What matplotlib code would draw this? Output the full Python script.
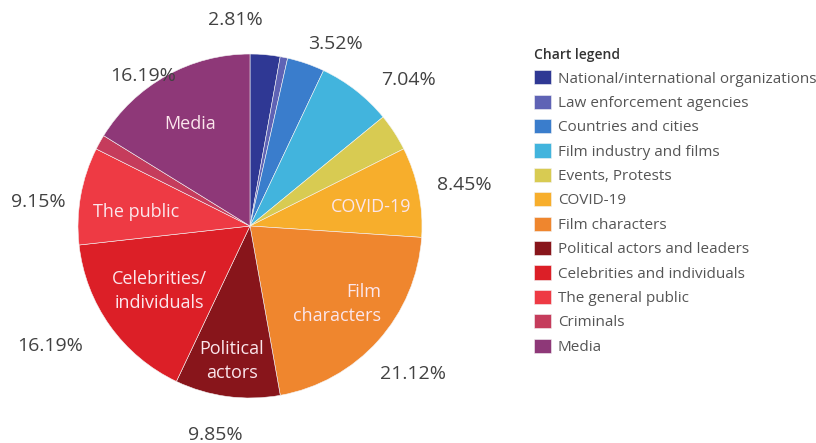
import numpy as np
import matplotlib.pyplot as plt

plt.rcParams['font.family'] = ['Open Sans', 'DejaVu Sans']

categories = ["National/international organizations", "Law enforcement agencies",
              "Countries and cities", "Film industry and films", "Events, Protests",
              "COVID-19", "Film characters", "Political actors and leaders",
              "Celebrities and individuals", "The general public", "Criminals", "Media"]
shares = [2.81, 0.70, 3.52, 7.04, 3.52, 8.45, 21.12, 9.85, 16.19, 9.15, 1.41, 16.19]
colors = ["#2f3894", "#5f63b5", "#3a7dcc", "#42b4dd", "#d8cb52", "#f7ae2c",
          "#ef862e", "#88151b", "#dc1f27", "#ee3a44", "#c53c5c", "#8e3878"]
inner_labels = ["", "", "", "", "", "COVID-19", "Film\ncharacters", "Political\nactors",
                "Celebrities/\nindividuals", "The public", "", "Media"]
show_pct = [True, False, True, True, False, True, True, True, True, True, False, True]
# label placement tweaks (degrees / radius) so outer labels don't collide
pct_shift = [-9, 0, 6, 9, 0, 0, 0, 2, 5, -3, 0, -6]
pct_rad = [1.21, 1.2, 1.18, 1.26, 1.2, 1.27, 1.27, 1.22, 1.35, 1.24, 1.2, 1.08]
inner_rad = [0, 0, 0, 0, 0, 0.72, 0.68, 0.79, 0.65, 0.67, 0, 0.72]

W, H = 816, 443
R = 172.0
cx, cy = 250.0, 226.0

fig = plt.figure(figsize=(W / 100, H / 100), dpi=100)
ax = fig.add_axes([0, 0, 500 / W, 1])
wedges, _ = ax.pie(shares, colors=colors, startangle=90, counterclock=False,
                   wedgeprops=dict(linewidth=0.4, edgecolor="#f4f4f4"))
ax.set_xlim(-cx / R, (500 - cx) / R)
ax.set_ylim(-(H - cy) / R, cy / R)
ax.set_aspect('equal', adjustable='box')
ax.axis('off')

cum = np.cumsum(shares) / sum(shares) * 360
mids = cum - np.array(shares) / sum(shares) * 180

for i, m in enumerate(mids):
    t = np.deg2rad(m)
    if inner_labels[i]:
        r = inner_rad[i]
        dy = 0 if "\n" in inner_labels[i] else -0.035
        ax.text(r * np.sin(t), r * np.cos(t) + dy, inner_labels[i], ha='center', va='center',
                fontsize=13, color="#fbe6ec", multialignment='right' if i == 6 else 'center',
                linespacing=1.45)
    if show_pct[i]:
        a = np.deg2rad(m + pct_shift[i])
        ax.text(pct_rad[i] * np.sin(a), pct_rad[i] * np.cos(a) - 0.012, f"{shares[i]:.2f}%",
                ha='center', va='center', fontsize=14, color="#424242")

leg = fig.legend(wedges, categories, loc='upper left', bbox_to_anchor=(528 / W, 1 - 42 / H),
                 frameon=False, title="Chart legend", alignment='left', fontsize=11,
                 title_fontsize=10, labelcolor="#555555", handlelength=1.1, handleheight=1.05,
                 handletextpad=0.45, labelspacing=0.53, borderaxespad=0)
leg.get_title().set_color("#333333")
leg.get_title().set_fontweight('semibold')

fig.savefig("out.png", dpi=100)
